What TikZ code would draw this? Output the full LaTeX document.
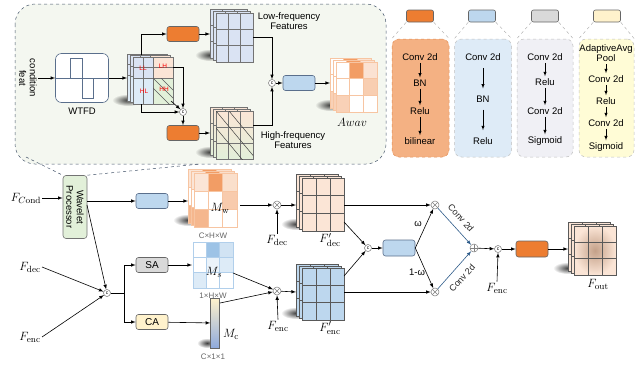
\documentclass[tikz,border=0pt]{standalone}
\usepackage[no-math]{fontspec}
\setmainfont{Liberation Sans}
\usetikzlibrary{calc,fadings}

\definecolor{corange}{HTML}{ED7D31}
\definecolor{cblue}{HTML}{BDD7EE}
\definecolor{cblueline}{HTML}{5A6F8C}
\definecolor{cgray}{HTML}{D9D9D9}
\definecolor{cyellow}{HTML}{FFF2CC}
\definecolor{cwp}{HTML}{E2F0D9}
\definecolor{cregion}{HTML}{F4F7F0}
\definecolor{cregionline}{HTML}{44546A}
\definecolor{copanel}{HTML}{F4B183}
\definecolor{copanelline}{HTML}{E08A50}
\definecolor{cbpanel}{HTML}{DEEBF7}
\definecolor{cgpanel}{HTML}{F0F0F5}
\definecolor{cypanel}{HTML}{FFFCD6}
\definecolor{cpeach}{HTML}{FBE5D6}
\definecolor{clow}{HTML}{DAE3F3}
\definecolor{cbluelight}{HTML}{DDEBF7}
\definecolor{cgreen}{HTML}{E2F0D9}
\definecolor{cconv}{HTML}{2E5C8A}
\definecolor{cmc}{HTML}{8FAADC}
\definecolor{cms}{HTML}{9DC3E6}
\definecolor{cfoutmid}{HTML}{C4A088}

\tikzfading[name=softshadow, inner color=transparent!25, outer color=transparent!100]

% one slice of a feature map, 3x3 grid
\newcommand{\featslice}[6]{%
  \fill[#5] (#1,#2) rectangle ++(#3,#4);
  \draw[#6, line width=0.4pt] (#1,#2) rectangle ++(#3,#4)
    ({#1+#3/3},#2) -- ++(0,#4) ({#1+2*#3/3},#2) -- ++(0,#4)
    (#1,{#2+#4/3}) -- ++(#3,0) (#1,{#2+2*#4/3}) -- ++(#3,0);
}
\newcommand{\featstack}[6]{%
  \fill[black, path fading=softshadow] ({#1-6},{#2+#4-7}) ellipse (15 and 6);
  \foreach \k in {2,1,0}{\featslice{#1-3*\k}{#2-2*\k}{#3}{#4}{#5}{#6}}
}
% slice with one colour per cell
\newcommand{\heatslice}[6]{%
  \foreach \cc [count=\n from 0] in {#5}{%
    \pgfmathtruncatemacro{\ci}{mod(\n,3)}%
    \pgfmathtruncatemacro{\ri}{floor(\n/3)}%
    \fill[fill=\cc] ({#1+\ci*#3/3},{#2+\ri*#4/3}) rectangle ++({#3/3},{#4/3});}
  \draw[#6, line width=0.4pt] (#1,#2) rectangle ++(#3,#4)
    ({#1+#3/3},#2) -- ++(0,#4) ({#1+2*#3/3},#2) -- ++(0,#4)
    (#1,{#2+#4/3}) -- ++(#3,0) (#1,{#2+2*#4/3}) -- ++(#3,0);
}
\newcommand{\heatstack}[6]{%
  \fill[black, path fading=softshadow] ({#1-6},{#2+#4-7}) ellipse (15 and 6);
  \foreach \k in {2,1,0}{\heatslice{#1-3*\k}{#2-2*\k}{#3}{#4}{#5}{#6}}
}

\begin{document}
\begin{tikzpicture}[>=latex, x=1pt, y=-1pt, line width=0.6pt,
  every node/.style={font=\fontsize{9.5}{10.5}\selectfont, inner sep=1pt},
  box/.style={draw=black!60, rounded corners=2.5pt, minimum width=32pt, minimum height=15pt, inner sep=0pt},
  orangebox/.style={box, fill=corange},
  bluebox/.style={box, fill=cblue, draw=cblueline},
  sabox/.style={box, fill=cgray, font=\fontsize{10}{11}\selectfont},
  cabox/.style={box, fill=cyellow, font=\fontsize{10}{11}\selectfont},
  catnode/.style={circle, draw=black!55, fill=white, line width=0.5pt, inner sep=0pt, minimum size=7pt, font=\fontsize{5}{5}\selectfont},
  mulnode/.style={circle, draw=black!50, fill=white, line width=0.5pt, inner sep=0pt, minimum size=8pt,
    path picture={\draw[black!50, line width=0.4pt] (path picture bounding box.south west) -- (path picture bounding box.north east)
      (path picture bounding box.north west) -- (path picture bounding box.south east);}},
  addnode/.style={circle, draw=black!50, fill=white, line width=0.5pt, inner sep=0pt, minimum size=8pt,
    path picture={\draw[black!50, line width=0.4pt] (path picture bounding box.north) -- (path picture bounding box.south)
      (path picture bounding box.west) -- (path picture bounding box.east);}},
  mathlbl/.style={font=\fontsize{12.5}{14}\selectfont},
  dimlbl/.style={font=\fontsize{8}{9}\selectfont, text=black!60},
  convlbl/.style={font=\fontsize{9}{10}\selectfont, text=black!85, inner sep=0pt},
  panel/.style={rounded corners=7pt, dashed, line width=0.5pt, minimum width=57pt, minimum height=118pt, inner sep=0pt},
  keybox/.style={draw=black!60, rounded corners=2pt, minimum width=27pt, minimum height=12pt, inner sep=0pt},
  keyline/.style={dashed, draw=black!35, line width=0.4pt},
  flowarrow/.style={->, line width=0.5pt, shorten <=1pt, shorten >=1pt}]
\useasboundingbox (0,0) rectangle (643,365);

% wavelet panel
\filldraw[fill=cregion, draw=cregionline, dashed, line width=0.5pt, rounded corners=20pt] (15,4) rectangle (386,164);
\node[rotate=-90, align=center] (cond) at (28,78) {condition\\feat};
\node[draw=cblueline, fill=white, rounded corners=6pt, minimum width=53pt, minimum height=49pt, inner sep=0pt] (wtfd) at (82,78) {};
\draw[line width=0.5pt, cblueline] (wtfd.west) -- (wtfd.east) (70,78) |- (82,58) -- (82,98) -| (93,78);
\node (wtfdlbl) at (82,111) {WTFD};
\draw[->] (cond.north) -- (wtfd.west);
\coordinate (sbin) at (127,78);
\draw[->] (wtfd.east) -- (sbin);

% sub-bands
\fill[black, path fading=softshadow] (128,100) ellipse (16 and 6);
\foreach \k in {2,1,0}{
  \begin{scope}[shift={(133-3*\k,57-1.5*\k)}]
    \fill[clow] (0,0) rectangle (20,21);
    \fill[cpeach] (20,0) rectangle (40,21);
    \fill[cbluelight] (0,21) rectangle (20,47);
    \fill[cgreen] (20,21) rectangle (40,47);
    \draw[black!55, line width=0.4pt] (0,0) rectangle (40,47) (20,0) -- (20,47) (0,21) -- (40,21)
      (10,0) -- (10,21) (0,10.5) -- (40,10.5) (10,21) -- (10,47);
    \begin{scope}
      \clip (20,21) rectangle (40,47);
      \draw[black!65, line width=0.4pt] (20,21) -- ++(26,26) (20,31) -- ++(26,26) (28,21) -- ++(26,26);
    \end{scope}
  \end{scope}}
\node[text=red, font=\fontsize{6.5}{7}\selectfont] (ll) at (143,68) {LL};
\node[text=red, font=\fontsize{6.5}{7}\selectfont] (lh) at (163,66) {LH};
\node[text=red, font=\fontsize{6.5}{7}\selectfont] (hl) at (144,91) {HL};
\node[text=red, font=\fontsize{6.5}{7}\selectfont] (hh) at (164,89) {HH};

\node[orangebox] (ob1) at (183,34) {};
\node[orangebox] (ob2) at (183,133) {};
\node[catnode] (cat1) at (183,112) {c};
\coordinate (sbtop) at (141,55);
\coordinate (sblh) at (173,67);
\coordinate (sbbot) at (141,104);
\coordinate (sbhh) at (171,101);
\draw[->] (sbtop) |- (ob1.west);
\draw[->] (sblh) -| (cat1.north);
\draw[->] (sbbot) |- (cat1.west);
\draw[->] (sbhh) -- (cat1.north west);
\draw[->] (cat1.south) -- (ob2.north);

% low / high frequency
\featstack{216}{13}{37}{49}{clow}{black!55}
\featstack{216}{111}{37}{48}{top color=cpeach, middle color=cbluelight, bottom color=cgreen}{black!55}
\begin{scope}
  \clip (216,111) rectangle ++(37,48);
  \draw[black!75, line width=0.5pt] (216,111) -- ++(40,48) (229,111) -- ++(40,48) (216,128) -- ++(40,48);
\end{scope}
\coordinate (lowin) at (210,34);
\coordinate (highin) at (210,133);
\draw[->] (ob1.east) -- (lowin);
\draw[->] (ob2.east) -- (highin);
\node[align=center] (lowlbl) at (289,21) {Low-frequency\\Features};
\node[align=center] (highlbl) at (293,140) {High-frequency\\Features};
\node[catnode] (cat2) at (272,83) {c};
\coordinate (lowout) at (253,37);
\coordinate (highout) at (253,125);
\draw[->] (lowout) -| (cat2.north);
\draw[->] (highout) -| (cat2.south);
\node[bluebox] (bb1) at (299,83) {};
\draw[->] (cat2) -- (bb1);
\coordinate (awin) at (330,83);
\draw[->] (bb1) -- (awin);
\heatstack{336}{62}{41}{50}{white,corange!75,corange!22,white,white,corange!38,corange!35,white,white}{corange!45}
\node[mathlbl] (awlbl) at (352,122) {$Awav$};

% legend
\node[keybox, fill=corange] (k1) at (420,16) {};
\node[keybox, fill=cblue] (k2) at (482,16) {};
\node[keybox, fill=cgray] (k3) at (545,16) {};
\node[keybox, fill=cyellow] (k4) at (607,16) {};
\node[panel, fill=copanel, draw=copanelline] (p1) at (420.5,98) {};
\node[panel, fill=cbpanel, draw=black!25] (p2) at (483,98) {};
\node[panel, fill=cgpanel, draw=black!25, minimum width=56pt] (p3) at (545,98) {};
\node[panel, fill=cypanel, draw=black!25, minimum width=55pt] (p4) at (606.5,98) {};
\foreach \i in {1,2,3,4}{
  \draw[keyline] (k\i.south west) -- (p\i.north west) (k\i.south east) -- (p\i.north east);}
\node (o1) at (420,57) {Conv 2d};
\node (o2) at (420,83) {BN};
\node (o3) at (420,111) {Relu};
\node (o4) at (420,141) {bilinear};
\draw[flowarrow] (o1) -- (o2);
\draw[flowarrow] (o2) -- (o3);
\draw[flowarrow] (o3) -- (o4);
\node (b1) at (483,57) {Conv 2d};
\node (b2) at (483,99) {BN};
\node (b3) at (483,141) {Relu};
\draw[flowarrow, shorten <=6pt, shorten >=6pt] (b1) -- (b2);
\draw[flowarrow, shorten <=6pt, shorten >=6pt] (b2) -- (b3);
\node (g1) at (545,57) {Conv 2d};
\node (g2) at (545,82) {Relu};
\node (g3) at (545,111) {Conv 2d};
\node (g4) at (545,141) {Sigmoid};
\draw[flowarrow] (g1) -- (g2);
\draw[flowarrow] (g2) -- (g3);
\draw[flowarrow] (g3) -- (g4);
\node[align=center] (y1) at (606,53) {AdaptiveAvg\\Pool};
\node (y2) at (606,79) {Conv 2d};
\node (y3) at (606,101) {Relu};
\node (y4) at (606,123) {Conv 2d};
\node (y5) at (606,147) {Sigmoid};
\draw[flowarrow] (y1) -- (y2);
\draw[flowarrow] (y2) -- (y3);
\draw[flowarrow] (y3) -- (y4);
\draw[flowarrow] (y4) -- (y5);

% wavelet processor branch
\node[draw=black!55, fill=cwp, rounded corners=3pt, minimum width=24pt, minimum height=63pt, inner sep=0pt] (wp) at (75,207) {};
\node[rotate=-90, align=center] (wptxt) at (wp.center) {Wavelet\\Processor};
\draw[cregionline, dashed, line width=0.5pt] (26,157) -- (wp.north west) (wp.north east) -- (200,164);
\node[mathlbl] (fcond) at (26,198) {$F_{C\mathrm{ond}}$};
\draw[->] (fcond.east) -- (fcond.east -| wp.west);
\node[bluebox] (bb2) at (152,201) {};
\draw[->] (wp.east |- bb2) -- (bb2.west);
\coordinate (mwin) at (188,201);
\draw[->] (bb2) -- (mwin);
\heatstack{194}{173}{43}{54}{corange!20,corange!75,corange!25,white,white,corange!40,corange!55,white,white}{corange!45}
\node[mathlbl] (mwlbl) at (220,208) {$M_{\mathrm{w}}$};
\node[dimlbl] (mwdim) at (213,236) {C×H×W};

% attention branch
\node[mathlbl] (fdec) at (30,267) {$F_{\mathrm{dec}}$};
\node[mathlbl] (fenc) at (30,337) {$F_{\mathrm{enc}}$};
\node[catnode] (cat3) at (107,293) {c};
\coordinate (wpout) at (87,205);
\draw[->] (wpout) -- (cat3);
\draw[->] (fdec.east) -- (cat3);
\draw[->] (fenc.east) -- (cat3);
\node[sabox] (sa) at (152,265) {SA};
\node[cabox] (ca) at (152,322) {CA};
\coordinate (split) at (124,293);
\draw (cat3) -- (split);
\draw[->] (split) |- (sa);
\draw[->] (split) |- (ca);
\coordinate (msin) at (192,265);
\draw[->] (sa) -- (msin);
\heatslice{193}{242}{40}{46}{white,cms,cblue!70,white,cbluelight!60,cbluelight,cbluelight,white,white}{cms!80}
\node[mathlbl] (mslbl) at (214,272) {$M_s$};
\node[dimlbl] (msdim) at (213,296) {1×H×W};
\fill[black, path fading=softshadow] (207,343) ellipse (10 and 5);
\node[draw=black!60, top color=cyellow, bottom color=cmc, minimum width=9pt, minimum height=50pt, inner sep=0pt] (mc) at (215,323) {};
\draw[->] (ca) -- (mc);
\node[mathlbl] (mclbl) at (231,334) {$M_{\mathrm{c}}$};
\node[dimlbl] (mcdim) at (213,357) {C×1×1};

% fusion
\node[mulnode] (mul1) at (277,205) {};
\coordinate (mwout) at (240,205);
\draw[->] (mwout) -- (mul1);
\node[mathlbl] (fdec2) at (277,240) {$F_{\mathrm{dec}}$};
\draw[->] (fdec2.north) -- (mul1.south);
\featstack{302}{178}{42}{53}{cpeach}{black!65}
\coordinate (fdin) at (296,205);
\draw[->] (mul1) -- (fdin);
\node[mathlbl] (fdlbl) at (330,240) {$F'_{\mathrm{dec}}$};
\node[mulnode] (mul2) at (277,291) {};
\coordinate (msout) at (233,273);
\coordinate (mcout) at (220,303);
\draw[->] (msout) -- (mul2);
\draw[->] (mcout) -- (mul2);
\node[mathlbl] (fenc2) at (278,326) {$F_{\mathrm{enc}}$};
\draw[->] (fenc2.north) -- (mul2.south);
\featstack{302}{268}{42}{52}{cblue}{black!65}
\coordinate (fein) at (296,292);
\draw[->] (mul2) -- (fein);
\node[mathlbl] (felbl) at (330,328) {$F'_{\mathrm{enc}}$};
\node[catnode] (cat4) at (368,248) {c};
\coordinate (fdout) at (344,222);
\coordinate (feout) at (344,276);
\draw[->] (fdout) -- (cat4);
\draw[->] (feout) -- (cat4);
\node[bluebox, minimum height=16pt] (bb3) at (399,248) {};
\draw[->] (cat4) -- (bb3);
\node[mulnode] (mul3) at (435,205) {};
\node[mulnode] (mul4) at (435,292) {};
\coordinate (fdright) at (344,205);
\coordinate (feright) at (344,292);
\draw[->] (fdright) -- (mul3);
\draw[->] (feright) -- (mul4);
\draw[->] (bb3.east) -- (mul3);
\draw[->] (bb3.east) -- (mul4);
\node (wlbl) at (418,224) {ω};
\node (wlbl2) at (417,272) {1-ω};
\node[addnode] (add1) at (474,248) {};
\draw[->, cconv] (mul3) -- (add1);
\draw[->, cconv] (mul4) -- (add1);
\node[convlbl, rotate=-48] (conv1) at (461,218) {Conv 2d};
\node[convlbl, rotate=48] (conv2) at (462,278) {Conv 2d};
\node[catnode] (cat5) at (498,249) {c};
\draw[->] (add1) -- (cat5);
\node[mathlbl] (fenc3) at (497,288) {$F_{\mathrm{enc}}$};
\draw[->] (fenc3.north) -- (cat5.south);
\node[orangebox, minimum height=16pt] (ob3) at (532,249) {};
\draw[->] (cat5) -- (ob3);
\coordinate (foutin) at (568,249);
\draw[->] (ob3) -- (foutin);
\featstack{574}{226}{42}{49}{inner color=cfoutmid, outer color=cpeach}{black!65}
\node[mathlbl] (foutlbl) at (598,284) {$F_{\mathrm{out}}$};
\end{tikzpicture}
\end{document}
